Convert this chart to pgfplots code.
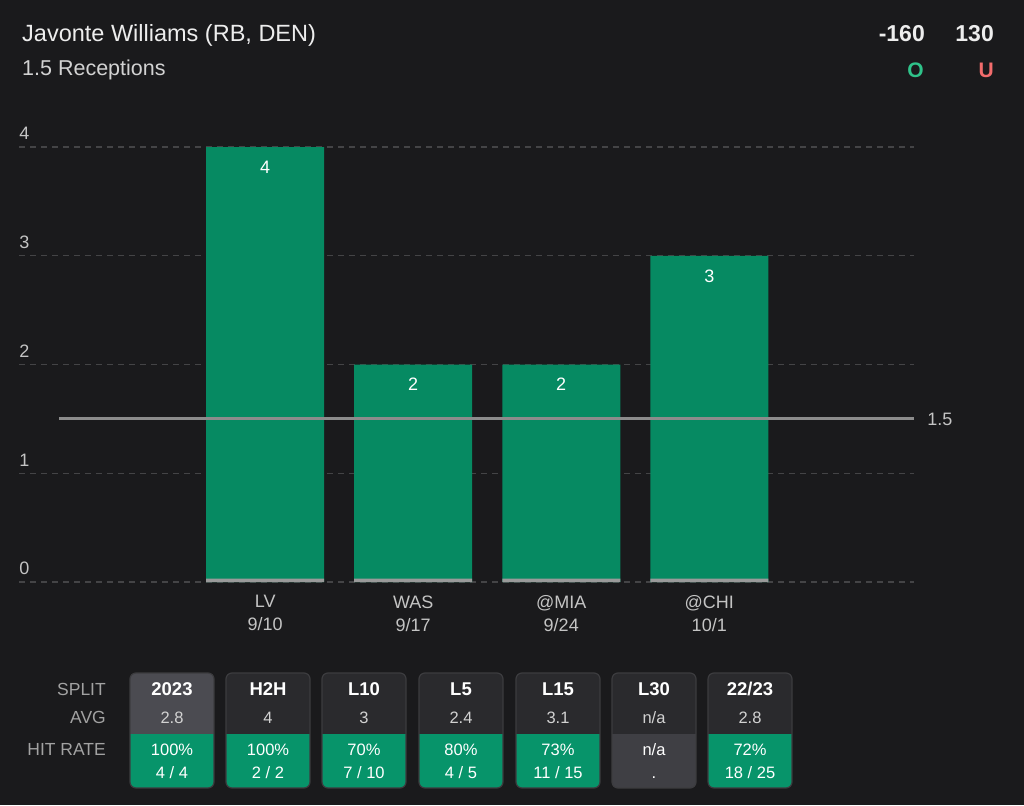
\documentclass[border=0pt]{standalone}
\usepackage{pgfplots}
\pgfplotsset{compat=1.18}
\usepackage{fontspec}
\setmainfont{Liberation Sans}
\definecolor{bg}{HTML}{1A1A1C}
\definecolor{titlec}{HTML}{EDEDED}
\definecolor{subc}{HTML}{D2D2D2}
\definecolor{tickc}{HTML}{C4C4C4}
\definecolor{gridc}{HTML}{444446}
\definecolor{barc}{HTML}{068A62}
\definecolor{stripc}{HTML}{9A9A9A}
\definecolor{refc}{HTML}{8C8C8C}
\definecolor{overc}{HTML}{2FC38A}
\definecolor{underc}{HTML}{F26C6C}
\definecolor{cardtop}{HTML}{2A2A2D}
\definecolor{cardsel}{HTML}{4B4B51}
\definecolor{cardgreen}{HTML}{07946A}
\definecolor{cardna}{HTML}{3F3F44}
\definecolor{cardborder}{HTML}{3C3C3F}
\definecolor{labc}{HTML}{A2A2A2}
\newcommand{\card}[7]{%
  \begin{scope}
    \clip[rounded corners=6] (#1,17) rectangle ++(84,115);
    \fill[#6] (#1,71) rectangle ++(84,61);
    \fill[#7] (#1,17) rectangle ++(84,54);
  \end{scope}
  \draw[cardborder, line width=1.2pt, rounded corners=6] (#1,17) rectangle ++(84,115);
  \node[anchor=base, inner sep=0, font=\bfseries\fontsize{18.5}{21}\selectfont, text=white] at (#1+42,109) {#2};
  \node[anchor=base, inner sep=0, font=\fontsize{16.5}{19}\selectfont, text=subc] at (#1+42,81) {#3};
  \node[anchor=base, inner sep=0, font=\fontsize{16.5}{19}\selectfont, text=white] at (#1+42,49) {#4};
  \node[anchor=base, inner sep=0, font=\fontsize{16.5}{19}\selectfont, text=white] at (#1+42,27) {#5};
}
\begin{document}
\begin{tikzpicture}[x=1pt,y=1pt]
\fill[bg] (0,0) rectangle (1024,805);
\useasboundingbox (0,0) rectangle (1024,805);
% header
\node[anchor=base west, inner sep=0, font=\fontsize{23.5}{27}\selectfont, text=titlec] at (22,763) {Javonte Williams (RB, DEN)};
\node[anchor=base west, inner sep=0, font=\fontsize{21.5}{25}\selectfont, text=subc] at (22,729) {1.5 Receptions};
\node[anchor=base east, inner sep=0, font=\bfseries\fontsize{23}{27}\selectfont, text=titlec] at (925,763) {-160};
\node[anchor=base east, inner sep=0, font=\bfseries\fontsize{23}{27}\selectfont, text=titlec] at (994,763) {130};
\node[anchor=base east, inner sep=0, font=\bfseries\fontsize{21}{25}\selectfont, text=overc] at (924,727) {O};
\node[anchor=base east, inner sep=0, font=\bfseries\fontsize{21}{25}\selectfont, text=underc] at (994,727) {U};
\begin{axis}[
  at={(13,205)}, anchor=south west, scale only axis,
  width=895pt, height=435pt,
  xmin=-1.662, xmax=4.385, ymin=0, ymax=4,
  axis line style={draw=none}, major tick length=0pt,
  ymajorgrids, grid style={gridc, line width=1.2pt, dash pattern=on 6pt off 5pt},
  ytick={0,1,2,3,4},
  yticklabel style={anchor=south west, inner sep=0pt, yshift=7pt, font=\fontsize{18}{20}\selectfont, text=tickc},
  xtick={0,1,2,3},
  xticklabels={{LV\\9/10},{WAS\\9/17},{@MIA\\9/24},{@CHI\\10/1}},
  xticklabel style={align=center, font=\fontsize{18}{23}\selectfont, text=tickc, yshift=-10pt},
  /pgf/number format/assume math mode=true,
  clip=false,
  bar width=118pt,
]
\addplot[ybar, bar shift=0pt, fill=barc, draw=none,
  nodes near coords,
  every node near coord/.append style={anchor=center, yshift=-20pt, text=white, font=\fontsize{18}{20}\selectfont}]
  coordinates {(0,4) (1,2) (2,2) (3,3)};
\addplot[ybar, bar shift=0pt, fill=stripc, draw=none]
  coordinates {(0,0.032) (1,0.032) (2,0.032) (3,0.032)};
\addplot[sharp plot, refc, line width=3pt, mark=none]
  coordinates {(-1.392,1.5) (4.385,1.5)};
\node[anchor=west, inner sep=0, font=\fontsize{18}{20}\selectfont, text=tickc, xshift=13pt] at (axis cs:4.385,1.5) {1.5};
\end{axis}
% split table
\node[anchor=base east, inner sep=0, font=\fontsize{17.5}{20}\selectfont, text=labc] at (106,109) {SPLIT};
\node[anchor=base east, inner sep=0, font=\fontsize{17.5}{20}\selectfont, text=labc] at (106,81) {AVG};
\node[anchor=base east, inner sep=0, font=\fontsize{17.5}{20}\selectfont, text=labc] at (106,49) {HIT RATE};
\card{130}{2023}{2.8}{100\%}{4 / 4}{cardsel}{cardgreen}
\card{226}{H2H}{4}{100\%}{2 / 2}{cardtop}{cardgreen}
\card{322}{L10}{3}{70\%}{7 / 10}{cardtop}{cardgreen}
\card{419}{L5}{2.4}{80\%}{4 / 5}{cardtop}{cardgreen}
\card{516}{L15}{3.1}{73\%}{11 / 15}{cardtop}{cardgreen}
\card{612}{L30}{n/a}{n/a}{.}{cardtop}{cardna}
\card{708}{22/23}{2.8}{72\%}{18 / 25}{cardtop}{cardgreen}
\end{tikzpicture}
\end{document}
